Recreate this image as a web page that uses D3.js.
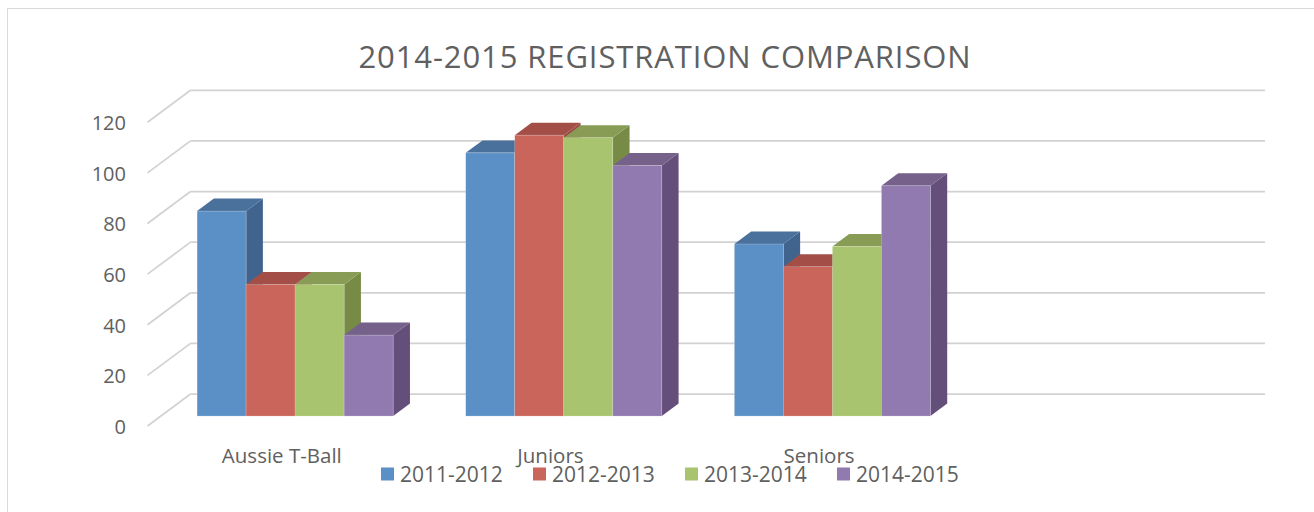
<!DOCTYPE html>
<html>
<head>
<meta charset="utf-8">
<script src="https://cdn.jsdelivr.net/npm/d3@7"></script>
<style>
  body { margin: 0; background: #fff; }
  svg { display: block; font-family: 'Open Sans', sans-serif; }
</style>
</head>
<body>
<svg id="canvas" width="1314" height="512"></svg>
<script>
(function (d3) {
  'use strict'

  var title = '2014-2015 REGISTRATION COMPARISON'
  var categories = ['Aussie T-Ball', 'Juniors', 'Seniors', '']
  var seasons = ['2011-2012', '2012-2013', '2013-2014', '2014-2015']
  var season2011 = [81, 104, 68]
  var season2012 = [52, 111, 59]
  var season2013 = [52, 110, 67]
  var season2014 = [32, 99, 91]
  var yTicks = [0, 20, 40, 60, 80, 100, 120]

  var seriesValues = [season2011, season2012, season2013, season2014]
  // front, top, side
  var colors = [
    ['#5b90c6', '#4a709c', '#41648f'],
    ['#c9655b', '#a34f48', '#9b4a43'],
    ['#a9c46e', '#889c55', '#788b46'],
    ['#917ab0', '#756189', '#634f79']
  ]

  var svg = d3.select('#canvas')
  var textColor = '#606060'
  var gridColor = '#d2d2d2'

  // oblique depth of the plot box
  var depthX = 43
  var depthY = -32
  var barFront = 0.31
  var barBack = 0.70

  var x0 = d3.scaleBand().domain(categories).range([147.5, 1222]).padding(0)
  var gap = x0.bandwidth() * 0.135
  var x1 = d3.scaleBand().domain(seasons).range([gap, x0.bandwidth() - gap]).padding(0)
  var y = d3.scaleLinear().domain([0, 120]).range([426, 122.3])

  // chart border
  svg.append('rect')
    .attr('x', 7.5).attr('y', 8.5)
    .attr('width', 1400).attr('height', 600)
    .attr('fill', 'none')
    .attr('stroke', '#d9d9d9')
    .attr('stroke-width', 1)

  svg.append('text')
    .attr('x', 665)
    .attr('y', 68)
    .attr('text-anchor', 'middle')
    .attr('font-size', 31)
    .attr('letter-spacing', 0.9)
    .attr('fill', textColor)
    .text(title)

  // walls
  var grid = svg.append('g')
  yTicks.forEach(function (t) {
    var fx = x0.range()[0]
    var fy = y(t)
    grid.append('line')
      .attr('x1', fx).attr('y1', fy)
      .attr('x2', fx + depthX).attr('y2', fy + depthY)
      .attr('stroke', gridColor).attr('stroke-width', 1.75)
    grid.append('line')
      .attr('x1', fx + depthX).attr('y1', fy + depthY)
      .attr('x2', x0.range()[1] + depthX).attr('y2', fy + depthY)
      .attr('stroke', gridColor).attr('stroke-width', 1.75)
  })

  var yAxis = d3.axisLeft(y).tickValues(yTicks).tickSize(0).tickPadding(0)
  var yg = svg.append('g')
    .attr('transform', 'translate(126,1)')
    .call(yAxis)
  yg.select('.domain').remove()
  yg.selectAll('text')
    .attr('font-size', 20)
    .attr('font-family', "'Open Sans', sans-serif")
    .attr('fill', textColor)

  // bars
  var ox = barFront * depthX
  var oy = barFront * depthY
  var dx = (barBack - barFront) * depthX
  var dy = (barBack - barFront) * depthY
  var w = x1.bandwidth()

  function pts (arr) {
    return arr.map(function (p) { return p.join(',') }).join(' ')
  }

  var bars = svg.append('g')
  categories.forEach(function (cat, ci) {
    seasons.forEach(function (s, si) {
      var v = seriesValues[si][ci]
      if (v === undefined) return
      var fx = x0(cat) + x1(s) + ox
      var top = y(v) + oy
      var bot = y(0) + oy
      var c = colors[si]
      var g = bars.append('g')
      g.append('polygon')
        .attr('points', pts([[fx + w, top], [fx + w + dx, top + dy], [fx + w + dx, bot + dy], [fx + w, bot]]))
        .attr('fill', c[2])
      g.append('polygon')
        .attr('points', pts([[fx, top], [fx + w, top], [fx + w + dx, top + dy], [fx + dx, top + dy]]))
        .attr('fill', c[1])
      g.append('rect')
        .attr('x', fx).attr('y', top)
        .attr('width', w).attr('height', bot - top)
        .attr('fill', c[0])
        .attr('stroke', 'rgba(255,255,255,0.35)')
        .attr('stroke-width', 0.6)
    })
  })

  // category labels
  svg.append('g').selectAll('text')
    .data(categories)
    .enter().append('text')
    .attr('x', function (d) { return x0(d) + x0.bandwidth() / 2 })
    .attr('y', 463)
    .attr('text-anchor', 'middle')
    .attr('font-size', 20.5)
    .attr('fill', textColor)
    .text(function (d) { return d })

  // legend
  var legend = svg.append('g').selectAll('g')
    .data(seasons)
    .enter().append('g')
    .attr('transform', function (d, i) { return 'translate(' + (381 + i * 152) + ',467.5)' })
  legend.append('rect')
    .attr('width', 13).attr('height', 13)
    .attr('fill', function (d, i) { return colors[i][0] })
  legend.append('text')
    .attr('x', 19)
    .attr('y', 14.5)
    .attr('font-size', 21)
    .attr('fill', textColor)
    .text(function (d) { return d })
})(d3)
</script>
</body>
</html>
